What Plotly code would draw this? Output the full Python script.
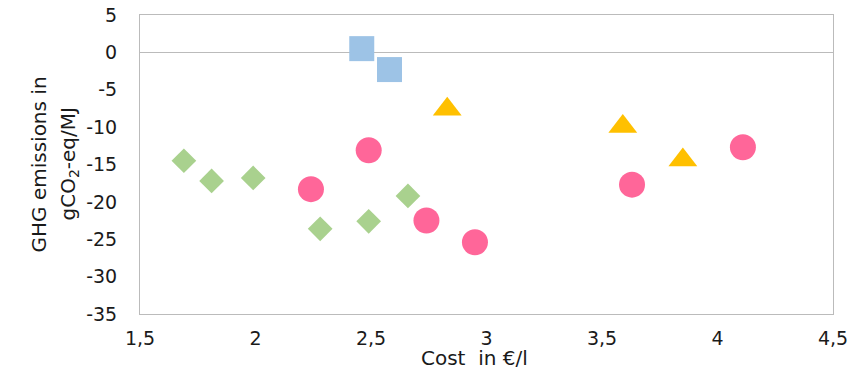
import plotly.graph_objects as go

green_x = [1.69, 1.81, 1.99, 2.28, 2.49, 2.66]
green_y = [-14.5, -17.2, -16.8, -23.6, -22.6, -19.2]
blue_x = [2.46, 2.58]
blue_y = [0.5, -2.3]
yellow_x = [2.83, 3.59, 3.85]
yellow_y = [-7.6, -9.9, -14.4]
pink_x = [2.24, 2.49, 2.74, 2.95, 3.63, 4.11]
pink_y = [-18.3, -13.1, -22.5, -25.4, -17.7, -12.7]

x_tickvals = [1.5, 2, 2.5, 3, 3.5, 4, 4.5]
x_ticktext = ["1,5", "2", "2,5", "3", "3,5", "4", "4,5"]
y_tickvals = [5, 0, -5, -10, -15, -20, -25, -30, -35]
y_ticktext = ["5", "0", "-5", "-10", "-15", "-20", "-25", "-30", "-35"]

x_title = "Cost  in €/l"
y_title_1 = "GHG emissions in"
y_title_2 = "gCO<sub>2</sub>-eq/MJ"

fig = go.Figure()
fig.add_trace(go.Scatter(x=green_x, y=green_y, mode="markers",
                         marker=dict(symbol="diamond", size=19, color="#A9D18E")))
fig.add_trace(go.Scatter(x=blue_x, y=blue_y, mode="markers",
                         marker=dict(symbol="square", size=25, color="#9DC3E6")))
fig.add_trace(go.Scatter(x=yellow_x, y=yellow_y, mode="markers",
                         marker=dict(symbol="triangle-up", size=25, color="#FFC000")))
fig.add_trace(go.Scatter(x=pink_x, y=pink_y, mode="markers",
                         marker=dict(symbol="circle", size=26, color="#FF6699")))

font = "DejaVu Sans, sans-serif"
fsize = 19
fig.update_layout(
    width=853, height=371,
    margin=dict(l=132, r=28, t=7, b=65, autoexpand=False),
    paper_bgcolor="white", plot_bgcolor="white",
    showlegend=False,
    font=dict(family=font, size=fsize, color="#1a1a1a"),
    xaxis=dict(range=[1.5, 4.5], tickvals=x_tickvals, ticktext=x_ticktext,
               showgrid=False, zeroline=False, showline=True, linecolor="#BBBBBB",
               linewidth=1, mirror=True, ticks="", automargin=False,
               ticklabelstandoff=7, ticklabeloverflow="allow"),
    yaxis=dict(range=[-35, 5], tickvals=y_tickvals, ticktext=y_ticktext,
               showgrid=False, zeroline=True, zerolinecolor="#BBBBBB", zerolinewidth=1,
               showline=True, linecolor="#BBBBBB", linewidth=1, mirror=True, ticks="",
               automargin=False, ticklabelstandoff=18, ticklabeloverflow="allow"),
    annotations=[
        dict(text=x_title, xref="paper", yref="paper", x=0.5, y=0,
             xanchor="center", yanchor="middle", xshift=-12, yshift=-44,
             showarrow=False, font=dict(size=fsize + 1)),
        dict(text=y_title_1, xref="paper", yref="paper", x=0, y=0.5,
             xanchor="center", yanchor="middle", xshift=-102, textangle=-90,
             showarrow=False, font=dict(size=fsize + 1)),
        dict(text=y_title_2, xref="paper", yref="paper", x=0, y=0.5,
             xanchor="center", yanchor="middle", xshift=-72, textangle=-90,
             showarrow=False, font=dict(size=fsize + 1)),
    ],
)
fig.write_html("out.html")
